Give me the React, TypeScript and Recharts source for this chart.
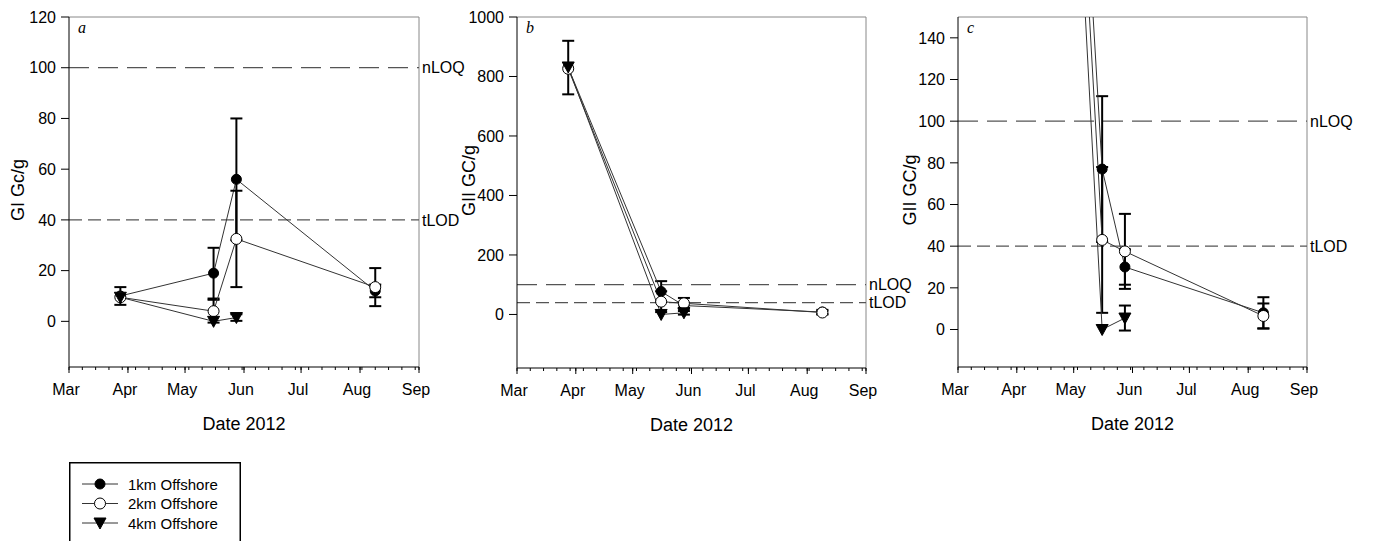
import React from 'react';
import { LineChart, Line, XAxis, YAxis, ErrorBar, ReferenceLine, Legend } from 'recharts';

// sampling dates as day-of-year (2012)
const sampleDays = [88, 137, 149, 222];

// GI marker, gene copies per g
const giKm1 = [10, 19, 56, 12];
const giKm1Err = [3.5, 10, 24, 2.5];
const giKm2 = [9.5, 4, 32.5, 13.5];
const giKm2Err = [0, 4.5, 19, 7.5];
const giKm4 = [9.5, 0, 1.5, null];
const giKm4Err = [0, 0, 1.3, null];

// GII marker, gene copies per g
const giiKm1 = [830, 77, 30, 8];
const giiKm1Err = [90, 35, 8.5, 7.5];
const giiKm2 = [826, 43, 37.5, 6.5];
const giiKm2Err = [0, 35, 18, 6];
const giiKm4 = [832, 0, 5.5, null];
const giiKm4Err = [0, 0, 6, null];

const monthTicks = [61, 92, 122, 153, 183, 214, 245];
const monthNames = ['Mar', 'Apr', 'May', 'Jun', 'Jul', 'Aug', 'Sep'];
const weekTicks = Array.from({ length: 27 }, (_, i) => 61 + i * 7);
const dayTicks = Array.from(new Set([...monthTicks, ...weekTicks])).sort((a, b) => a - b);
const dayDomain: [number, number] = [61, 245];

const nLOQ = 100;
const tLOD = 40;

const series = [
  { key: 'km1', name: '1km Offshore', marker: 'filled' },
  { key: 'km2', name: '2km Offshore', marker: 'open' },
  { key: 'km4', name: '4km Offshore', marker: 'tri' },
];

const SANS = '"Liberation Sans", Arial, sans-serif';
const X_TICK = 3;
const X_MARGIN = 12;

const buildRows = (
  a: (number | null)[], aErr: (number | null)[],
  b: (number | null)[], bErr: (number | null)[],
  c: (number | null)[], cErr: (number | null)[],
) =>
  sampleDays.map((day, i) => ({
    day,
    km1: a[i], km1Err: aErr[i],
    km2: b[i], km2Err: bErr[i],
    km4: c[i], km4Err: cErr[i],
  }));

const giRows = buildRows(giKm1, giKm1Err, giKm2, giKm2Err, giKm4, giKm4Err);
const giiRows = buildRows(giiKm1, giiKm1Err, giiKm2, giiKm2Err, giiKm4, giiKm4Err);

const Marker = ({ kind, cx, cy }: { kind: string; cx: number; cy: number }) => {
  if (kind === 'filled') return <circle cx={cx} cy={cy} r={5} fill="#000" stroke="#000" />;
  if (kind === 'open') return <circle cx={cx} cy={cy} r={5.5} fill="#fff" stroke="#000" strokeWidth={1} />;
  return (
    <polygon
      points={`${cx - 6},${cy - 5} ${cx + 6},${cy - 5} ${cx},${cy + 6}`}
      fill="#000"
      stroke="#000"
    />
  );
};

const dotFor = (kind: string) => (p: any) => {
  if (p.value == null || p.cy == null) return <g key={`e${p.index}`} />;
  return <Marker key={`m${p.index}`} kind={kind} cx={p.cx} cy={p.cy} />;
};

const MonthTick = (p: any) => {
  const axisY = p.y - X_TICK - X_MARGIN;
  const idx = monthTicks.indexOf(p.payload.value);
  if (idx < 0) return <g />;
  return (
    <g>
      <line x1={p.x} x2={p.x} y1={axisY} y2={axisY + 6} stroke="#000" />
      <text
        x={p.x - 3}
        y={axisY + 22}
        textAnchor="middle"
        dominantBaseline="central"
        fontSize={16}
        fontFamily={SANS}
        fill="#000"
      >
        {monthNames[idx]}
      </text>
    </g>
  );
};

const yTitle = (text: string, x: number, shift: number) => (p: any) => {
  const vb = p.viewBox ?? {};
  const cx = (vb.x ?? 0) + x;
  const cy = (vb.y ?? 0) + (vb.height ?? 0) / 2 + shift;
  return (
    <text
      x={cx}
      y={cy}
      transform={`rotate(-90 ${cx} ${cy})`}
      textAnchor="middle"
      dominantBaseline="central"
      fontSize={18}
      fontFamily={SANS}
      fill="#000"
    >
      {text}
    </text>
  );
};

const xTitle = (p: any) => {
  const vb = p.viewBox ?? {};
  const cx = (vb.x ?? 0) + (vb.width ?? 0) / 2;
  const cy = (vb.y ?? 0) + 57;
  return (
    <text x={cx} y={cy} textAnchor="middle" dominantBaseline="central" fontSize={18} fontFamily={SANS} fill="#000">
      Date 2012
    </text>
  );
};

const panelLetter = (letter: string) => (p: any) => {
  const vb = p.viewBox ?? {};
  return (
    <text
      x={(vb.x ?? 0) + 9}
      y={(vb.y ?? 0) + 16}
      fontSize={16}
      fontStyle="italic"
      fontFamily='"Liberation Serif", "Times New Roman", serif'
      fill="#000"
    >
      {letter}
    </text>
  );
};

const LegendBox = () => (
  <svg width={172} height={100} style={{ display: 'block' }}>
    <rect x={0.75} y={0.75} width={170.5} height={110} fill="#fff" stroke="#000" strokeWidth={1.5} />
    {series.map((s, i) => {
      const cy = 22 + i * 19.5;
      return (
        <g key={s.key}>
          <line x1={13} x2={49} y1={cy} y2={cy} stroke="#333" strokeWidth={1} />
          <Marker kind={s.marker} cx={31} cy={cy} />
          <text x={59} y={cy} dominantBaseline="central" fontSize={15} fontFamily={SANS} fill="#000">
            {s.name}
          </text>
        </g>
      );
    })}
  </svg>
);

type PanelProps = {
  left: number;
  width: number;
  height: number;
  margin: { top: number; right: number; bottom: number; left: number };
  yAxisWidth: number;
  yDomain: [number, number];
  yTicks: number[];
  title: string;
  titleX: number;
  titleShift: number;
  letter: string;
  rows: any[];
  clip?: boolean;
  legend?: boolean;
};

const Panel = (p: PanelProps) => (
  <div style={{ position: 'absolute', left: p.left, top: 0 }}>
    <LineChart width={p.width} height={p.height} data={p.rows} margin={p.margin}>
      <XAxis
        dataKey="day"
        type="number"
        domain={dayDomain}
        ticks={dayTicks}
        interval={0}
        tickSize={X_TICK}
        tickMargin={X_MARGIN}
        tick={MonthTick}
        height={60}
        axisLine={{ stroke: '#000' }}
        tickLine={{ stroke: '#000' }}
        label={{ content: xTitle }}
      />
      <YAxis
        type="number"
        domain={p.yDomain}
        ticks={p.yTicks}
        interval={0}
        allowDataOverflow={!!p.clip}
        width={p.yAxisWidth}
        tickSize={8}
        tickMargin={5}
        tick={{ fill: '#000', fontSize: 16, fontFamily: SANS }}
        axisLine={{ stroke: '#000' }}
        tickLine={{ stroke: '#000' }}
        label={{ content: yTitle(p.title, p.titleX, p.titleShift) }}
      />
      {/* frame on the top and right side of the plot */}
      <ReferenceLine
        y={p.yDomain[1]}
        stroke="#888"
        strokeWidth={1}
        ifOverflow="extendDomain"
        label={{ content: panelLetter(p.letter) }}
      />
      <ReferenceLine x={dayDomain[1]} stroke="#888" strokeWidth={1} ifOverflow="extendDomain" />
      <ReferenceLine
        y={nLOQ}
        stroke="#555"
        strokeWidth={1.2}
        strokeDasharray="20 9"
        label={{ value: 'nLOQ', position: 'right', offset: 3, fill: '#000', fontSize: 16, fontFamily: SANS }}
      />
      <ReferenceLine
        y={tLOD}
        stroke="#555"
        strokeWidth={1.2}
        strokeDasharray="13 6"
        label={{ value: 'tLOD', position: 'right', offset: 3, fill: '#000', fontSize: 16, fontFamily: SANS }}
      />
      {series.map((s) => (
        <Line
          key={s.key}
          dataKey={s.key}
          name={s.name}
          stroke="#333"
          strokeWidth={1}
          dot={dotFor(s.marker)}
          activeDot={false}
          isAnimationActive={false}
        >
          <ErrorBar
            dataKey={`${s.key}Err`}
            direction="y"
            width={6}
            stroke="#000"
            strokeWidth={2}
            isAnimationActive={false}
          />
        </Line>
      ))}
      {p.legend && (
        <Legend
          layout="vertical"
          align="center"
          verticalAlign="middle"
          content={() => <LegendBox />}
          wrapperStyle={{ position: 'absolute', left: 69, top: 462, width: 172, height: 100 }}
        />
      )}
    </LineChart>
  </div>
);

export default function App() {
  return (
    <div
      style={{
        position: 'absolute',
        left: 0,
        top: 0,
        width: 1373,
        height: 541,
        overflow: 'hidden',
        background: '#fff',
        fontFamily: SANS,
      }}
    >
      <Panel
        left={0}
        width={480}
        height={541}
        margin={{ top: 17, right: 61, bottom: 114, left: 0 }}
        yAxisWidth={69}
        yDomain={[-18, 120]}
        yTicks={[0, 20, 40, 60, 80, 100, 120]}
        title="GI Gc/g"
        titleX={18}
        titleShift={-2}
        letter="a"
        rows={giRows}
        legend
      />
      <Panel
        left={450}
        width={470}
        height={440}
        margin={{ top: 17, right: 54, bottom: 12, left: 0 }}
        yAxisWidth={67}
        yDomain={[-180, 1000]}
        yTicks={[0, 200, 400, 600, 800, 1000]}
        title="GII GC/g"
        titleX={19}
        titleShift={-12}
        letter="b"
        rows={giiRows}
      />
      <Panel
        left={900}
        width={470}
        height={440}
        margin={{ top: 17, right: 63, bottom: 13, left: 0 }}
        yAxisWidth={58}
        yDomain={[-18, 150]}
        yTicks={[0, 20, 40, 60, 80, 100, 120, 140]}
        title="GII GC/g"
        titleX={10}
        titleShift={-2}
        letter="c"
        rows={giiRows}
        clip
      />
    </div>
  );
}
